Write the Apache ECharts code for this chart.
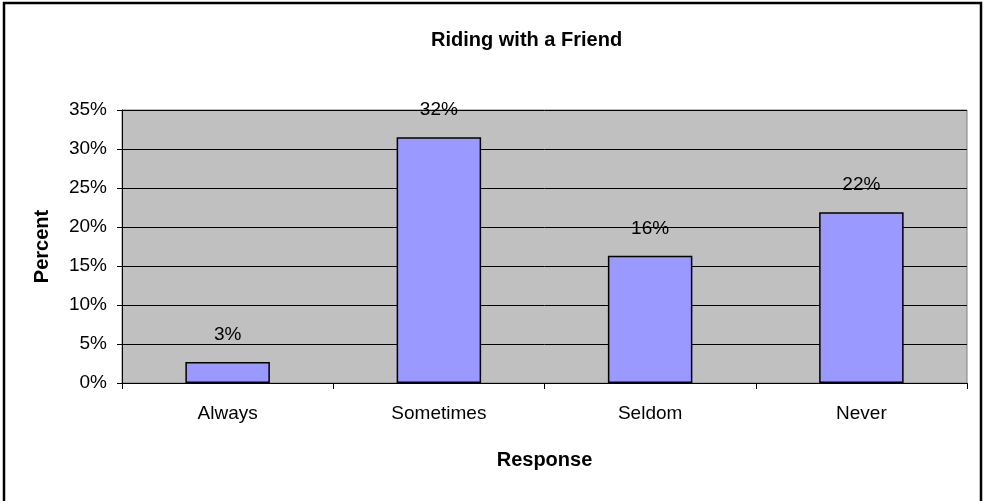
<!DOCTYPE html>
<html>
<head>
<meta charset="utf-8">
<title>Riding with a Friend</title>
<script src="https://cdn.jsdelivr.net/npm/echarts@6/dist/echarts.min.js"></script>
<style>
  html, body { margin: 0; padding: 0; background: #ffffff; }
  #chart { width: 984px; height: 501px; }
</style>
</head>
<body>
<div id="chart"></div>
<script>
// Survey responses: share of riders (percent) for each answer
const categories = ['Always', 'Sometimes', 'Seldom', 'Never'];
const percentValues = [2.7, 31.5, 16.3, 21.9];
const yTicks = { min: 0, max: 35, interval: 5 };

const FONT = '"Liberation Sans", Arial, sans-serif';

const chart = echarts.init(document.getElementById('chart'), null, { renderer: 'canvas' });

chart.setOption({
  backgroundColor: '#ffffff',
  animation: false,
  title: {
    text: 'Riding with a Friend',
    left: 431,
    top: 30,
    padding: 0,
    textStyle: { fontFamily: FONT, fontSize: 20, fontWeight: 'bold', color: '#000000' }
  },
  graphic: [{
    type: 'rect',
    shape: { x: 4, y: 3, width: 977, height: 560 },
    style: { fill: 'none', stroke: '#000000', lineWidth: 2.5 },
    silent: true,
    z: 100
  }],
  grid: {
    left: 122,
    right: 17,
    top: 110,
    bottom: 118,
    show: true,
    backgroundColor: '#C0C0C0',
    borderColor: '#808080',
    borderWidth: 1
  },
  xAxis: {
    type: 'category',
    data: categories,
    name: 'Response',
    nameLocation: 'middle',
    nameGap: 67,
    nameTextStyle: { fontFamily: FONT, fontSize: 20, fontWeight: 'bold', color: '#000000' },
    axisLine: { show: true, lineStyle: { color: '#000000', width: 1 } },
    axisTick: { show: true, alignWithLabel: false, length: 6, lineStyle: { color: '#000000' } },
    axisLabel: { fontFamily: FONT, fontSize: 19, color: '#000000', margin: 21 },
    splitLine: { show: false }
  },
  yAxis: {
    type: 'value',
    min: yTicks.min,
    max: yTicks.max,
    interval: yTicks.interval,
    name: 'Percent',
    nameLocation: 'middle',
    nameGap: 70,
    nameRotate: 90,
    nameTextStyle: { fontFamily: FONT, fontSize: 20, fontWeight: 'bold', color: '#000000' },
    axisLine: { show: true, lineStyle: { color: '#000000', width: 1 } },
    axisTick: { show: true, length: 5, lineStyle: { color: '#000000' } },
    axisLabel: { fontFamily: FONT, fontSize: 19, color: '#000000', margin: 15, formatter: '{value}%' },
    splitLine: { show: true, lineStyle: { color: '#000000', width: 1 } }
  },
  series: [{
    type: 'bar',
    data: percentValues,
    barWidth: '40%',
    itemStyle: { color: '#9999FF', borderColor: '#000000', borderWidth: 1.5 },
    label: {
      show: true,
      position: 'top',
      distance: 18,
      fontFamily: FONT,
      fontSize: 19,
      color: '#000000',
      formatter: p => Math.round(p.value) + '%'
    }
  }]
});
</script>
</body>
</html>
